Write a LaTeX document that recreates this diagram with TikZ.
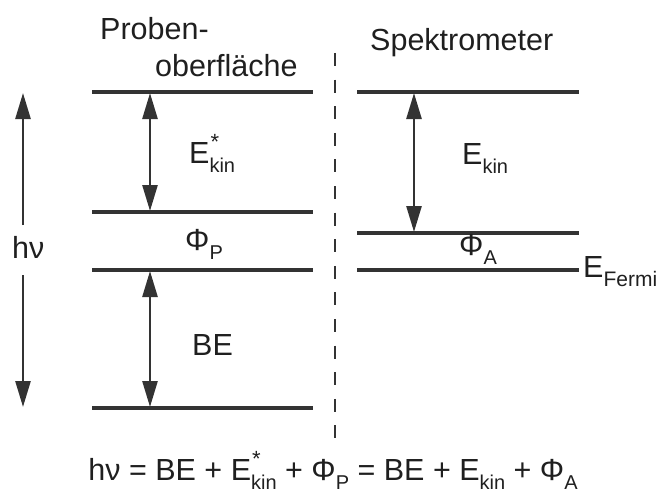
\documentclass[tikz,border=0pt]{standalone}
\usepackage{fontspec}
\setmainfont{Liberation Sans}
\usetikzlibrary{arrows.meta}
\definecolor{ink}{HTML}{333333}
\newcommand{\subkin}[1]{\raisebox{-0.3em}{\fontsize{20}{20}\selectfont #1}}
\newcommand{\Estar}{E\rlap{\raisebox{0.45em}{\fontsize{22}{22}\selectfont\kern1pt *}}\subkin{kin}}
\newcommand{\Ekin}{E\subkin{kin}}
\newcommand{\Phisub}[1]{Φ\subkin{#1}}
\begin{document}
\begin{tikzpicture}[x=1pt,y=-1pt,
  level/.style={line width=3.2pt,ink},
  dbl/.style={line width=2.6pt,ink,{Triangle[length=26pt,width=15pt]}-{Triangle[length=26pt,width=15pt]}},
  sgl/.style={line width=2.6pt,ink,-{Triangle[length=26pt,width=15pt]}},
  divider/.style={line width=2pt,ink,dash pattern=on 13pt off 13.6pt},
  lbl/.style={inner sep=0pt,anchor=base west,font=\fontsize{30.5}{34}\selectfont,text=black!88}]
\useasboundingbox (0,0) rectangle (671,492);
% level coordinates
\coordinate (L1a) at (92,92);  \coordinate (L1b) at (313,92);
\coordinate (L2a) at (92,212); \coordinate (L2b) at (313,212);
\coordinate (L3a) at (92,270); \coordinate (L3b) at (313,270);
\coordinate (L4a) at (92,408); \coordinate (L4b) at (313,408);
\coordinate (R1a) at (357,92);  \coordinate (R1b) at (579,92);
\coordinate (R2a) at (357,233); \coordinate (R2b) at (579,233);
\coordinate (R3a) at (357,270); \coordinate (R3b) at (579,270);
\coordinate (Dt) at (335,53); \coordinate (Db) at (335,440);
\draw[level] (L1a) -- (L1b);
\draw[level] (L2a) -- (L2b);
\draw[level] (L3a) -- (L3b);
\draw[level] (L4a) -- (L4b);
\draw[level] (R1a) -- (R1b);
\draw[level] (R2a) -- (R2b);
\draw[level] (R3a) -- (R3b);
\draw[divider] (Dt) -- (Db);
% arrow coordinates
\coordinate (A1t) at (150,93);  \coordinate (A1b) at (150,211);
\coordinate (A2t) at (150,271); \coordinate (A2b) at (150,407);
\coordinate (A3t) at (414,93);  \coordinate (A3b) at (414,232);
\coordinate (Ht) at (23,93); \coordinate (Hm1) at (23,225);
\coordinate (Hm2) at (23,275); \coordinate (Hb) at (23,407);
\draw[dbl] (A1t) -- (A1b);
\draw[dbl] (A2t) -- (A2b);
\draw[dbl] (A3t) -- (A3b);
\draw[sgl] (Hm1) -- (Ht);
\draw[sgl] (Hm2) -- (Hb);
% labels
\node[lbl] (proben) at (100,40) {Proben-};
\node[lbl] (ober) at (155,77) {oberfläche};
\node[lbl] (spek) at (370,51) {Spektrometer};
\node[lbl] (ekinstar) at (189,163) {\Estar};
\node[lbl] (phip) at (185,250) {\Phisub{P}};
\node[lbl] (be) at (192,355) {BE};
\node[lbl] (hv) at (12,258) {hν};
\node[lbl] (ekin) at (462,164) {\Ekin};
\node[lbl] (phia) at (459,255) {\Phisub{A}};
\node[lbl] (efermi) at (583,277) {E\raisebox{-0.3em}{\fontsize{21}{21}\selectfont Fermi}};
\node[lbl,anchor=base] (eq) at (333,480) {hν = BE + \Estar{} + \Phisub{P} = BE + \Ekin{} + \Phisub{A}};
\end{tikzpicture}
\end{document}
